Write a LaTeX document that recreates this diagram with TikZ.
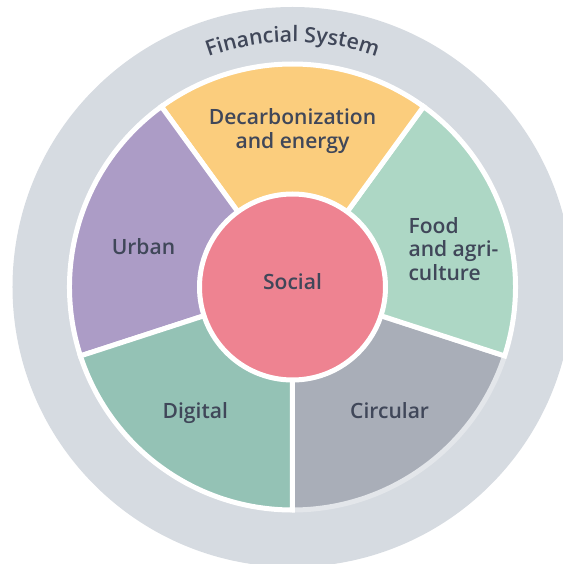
\documentclass[tikz,border=0pt]{standalone}
\usepackage{fontspec}
\setmainfont{Open Sans}[BoldFont=* Semibold]
\usetikzlibrary{decorations.text}
\tikzset{>=stealth}
\definecolor{finsys}{HTML}{D6DBE1}
\definecolor{ink}{HTML}{404759}
\definecolor{decarb}{HTML}{FBCD7D}
\definecolor{urban}{HTML}{AC9CC6}
\definecolor{digital}{HTML}{94C2B5}
\definecolor{circ}{HTML}{A9AEB8}
\definecolor{circline}{HTML}{E3E6EA}
\definecolor{food}{HTML}{ADD7C5}
\definecolor{social}{HTML}{EE8391}

\begin{document}
\begin{tikzpicture}[x=0.75pt,y=0.75pt,
    lbl/.style={text=ink, inner sep=0pt, font=\bfseries\fontsize{15.8}{17.6}\selectfont}]
    \useasboundingbox (-292.5,-277) rectangle (270.5,287);
    \clip (-292.5,-277) rectangle (270.5,287);
    % financial system ring
    \fill[finsys] (0,0) circle (280);
    \path[decorate, decoration={text along path, text align=center, text color=ink,
        text={|\bfseries\fontsize{16}{18}\selectfont|Financial System}}]
        (150:245) arc (150:30:245);
    % sectors
    \foreach \a/\c/\b in {270/circ/circline, 342/food/white, 54/decarb/white,
        126/urban/white, 198/digital/white}
        \filldraw[fill=\c, draw=\b, line width=3.75pt] (0,0) -- (\a:223) arc (\a:\a+72:223) -- cycle;
    \filldraw[fill=social, draw=white, line width=3.75pt] (0,0) circle (93);
    % labels
    \node[lbl, anchor=base] (soc) at (0,-2.4) {Social};
    \node[lbl, anchor=base, align=center] (dec) at (0,138.7) {Decarbonization\\and energy};
    \node[lbl, anchor=base] (urb) at (-149,32) {Urban};
    \node[lbl, anchor=base west, align=left] (fod) at (115.8,7) {Food\\and agri-\\culture};
    \node[lbl, anchor=base] (dig) at (-97.2,-131) {Digital};
    \node[lbl, anchor=base] (cir) at (97.1,-131) {Circular};
\end{tikzpicture}
\end{document}
